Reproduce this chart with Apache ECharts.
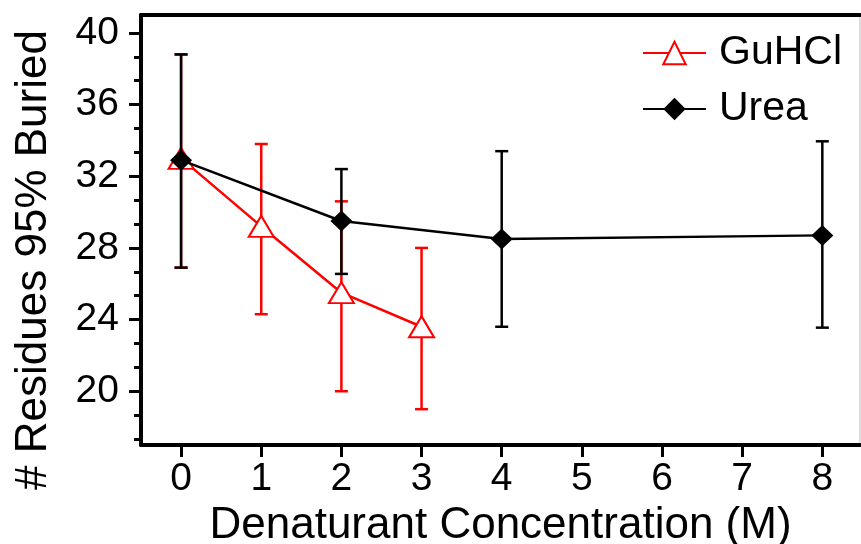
<!DOCTYPE html>
<html>
<head>
<meta charset="utf-8">
<script src="https://cdn.jsdelivr.net/npm/echarts@6/dist/echarts.min.js"></script>
<style>
  html, body { margin: 0; padding: 0; background: #fff; }
  #chart { width: 861px; height: 544px; }
</style>
</head>
<body>
<div id="chart"></div>
<script>
// GuHCl series (open red triangles)
var guX = [0, 1, 2, 3];
var guY = [33.0, 29.2, 25.5, 23.6];
var guLow = [26.9, 24.3, 20.0, 19.0];
var guHigh = [38.8, 33.8, 30.6, 28.0];

// Urea series (black diamonds)
var ureaX = [0, 2, 4, 8];
var ureaY = [32.9, 29.5, 28.5, 28.7];
var ureaLow = [26.9, 26.55, 23.6, 23.55];
var ureaHigh = [38.8, 32.4, 33.4, 33.95];

var xTicks = [0, 1, 2, 3, 4, 5, 6, 7, 8];
var yTicks = [20, 24, 28, 32, 36, 40];

var font = 'Liberation Sans, Arial, sans-serif';

function pairs(xs, ys) {
    return xs.map(function (x, i) { return [x, ys[i]]; });
}
function bars(xs, lo, hi) {
    return xs.map(function (x, i) { return [x, lo[i], hi[i]]; });
}

function errorBars(color) {
    return function (params, api) {
        var x = api.value(0);
        var lo = api.coord([x, api.value(1)]);
        var hi = api.coord([x, api.value(2)]);
        var w = 6.5;
        var style = { stroke: color, lineWidth: 2.5 };
        return {
            type: 'group',
            children: [
                { type: 'line', shape: { x1: hi[0], y1: hi[1], x2: lo[0], y2: lo[1] }, style: style },
                { type: 'line', shape: { x1: hi[0] - w, y1: hi[1], x2: hi[0] + w, y2: hi[1] }, style: style },
                { type: 'line', shape: { x1: lo[0] - w, y1: lo[1], x2: lo[0] + w, y2: lo[1] }, style: style }
            ]
        };
    };
}

var chart = echarts.init(document.getElementById('chart'), null, { renderer: 'canvas' });
chart.setOption({
    animation: false,
    backgroundColor: '#fff',
    textStyle: { fontFamily: font },
    grid: {
        left: 141, right: 1, top: 15, bottom: 99,
        outerBoundsMode: 'none',
        containLabel: false,
        show: true, borderColor: '#bbb', borderWidth: 1
    },
    legend: {
        data: ['GuHCl', 'Urea'],
        orient: 'vertical',
        left: 642,
        top: 31,
        padding: 0,
        itemWidth: 63,
        itemHeight: 28,
        itemGap: 12,
        textStyle: { fontFamily: font, fontSize: 41, color: '#000', lineHeight: 44, padding: [0, 0, 0, 8] }
    },
    xAxis: [{
        type: 'value',
        min: -0.5,
        max: 8.47,
        minInterval: 1,
        maxInterval: 1,
        splitLine: { show: false },
        axisLine: { onZero: false, lineStyle: { color: '#000', width: 4 } },
        axisTick: { customValues: xTicks, length: 12, lineStyle: { color: '#000', width: 3 } },
        axisLabel: { customValues: xTicks, fontSize: 39, color: '#000', margin: 15, fontFamily: font },
        name: 'Denaturant Concentration (M)',
        nameLocation: 'middle',
        nameGap: 52,
        nameTextStyle: { fontSize: 44, color: '#000', fontFamily: font }
    }, {
        type: 'value',
        position: 'top',
        min: -0.5,
        max: 8.47,
        splitLine: { show: false },
        axisLine: { onZero: false, lineStyle: { color: '#000', width: 4 } },
        axisTick: { show: false },
        axisLabel: { show: false }
    }],
    yAxis: [{
        type: 'value',
        min: 17,
        max: 41,
        minInterval: 4,
        maxInterval: 4,
        splitLine: { show: false },
        axisLine: { onZero: false, lineStyle: { color: '#000', width: 4 } },
        axisTick: { customValues: yTicks, length: 12, lineStyle: { color: '#000', width: 3 } },
        minorTick: { show: true, splitNumber: 3, length: 7, lineStyle: { color: '#000', width: 3 } },
        axisLabel: { customValues: yTicks, fontSize: 39, color: '#000', margin: 22, fontFamily: font },
        name: '# Residues 95% Buried',
        nameLocation: 'middle',
        nameGap: 85,
        nameTextStyle: { fontSize: 44, color: '#000', fontFamily: font, padding: [0, 60, 0, 0] }
    }],
    series: [{
        name: 'GuHCl err',
        type: 'custom',
        renderItem: errorBars('#ff0000'),
        encode: { x: 0, y: [1, 2] },
        data: bars(guX, guLow, guHigh),
        z: 2
    }, {
        name: 'GuHCl',
        type: 'line',
        data: pairs(guX, guY),
        symbol: 'triangle',
        symbolSize: [25, 21],
        lineStyle: { color: '#ff0000', width: 2.5 },
        itemStyle: { color: '#fff', borderColor: '#ff0000', borderWidth: 2 },
        z: 3
    }, {
        name: 'Urea err',
        type: 'custom',
        renderItem: errorBars('#000'),
        encode: { x: 0, y: [1, 2] },
        data: bars(ureaX, ureaLow, ureaHigh),
        z: 4
    }, {
        name: 'Urea',
        type: 'line',
        data: pairs(ureaX, ureaY),
        symbol: 'diamond',
        symbolSize: [22, 21],
        lineStyle: { color: '#000', width: 2.5 },
        itemStyle: { color: '#000' },
        z: 5
    }]
});
</script>
</body>
</html>
